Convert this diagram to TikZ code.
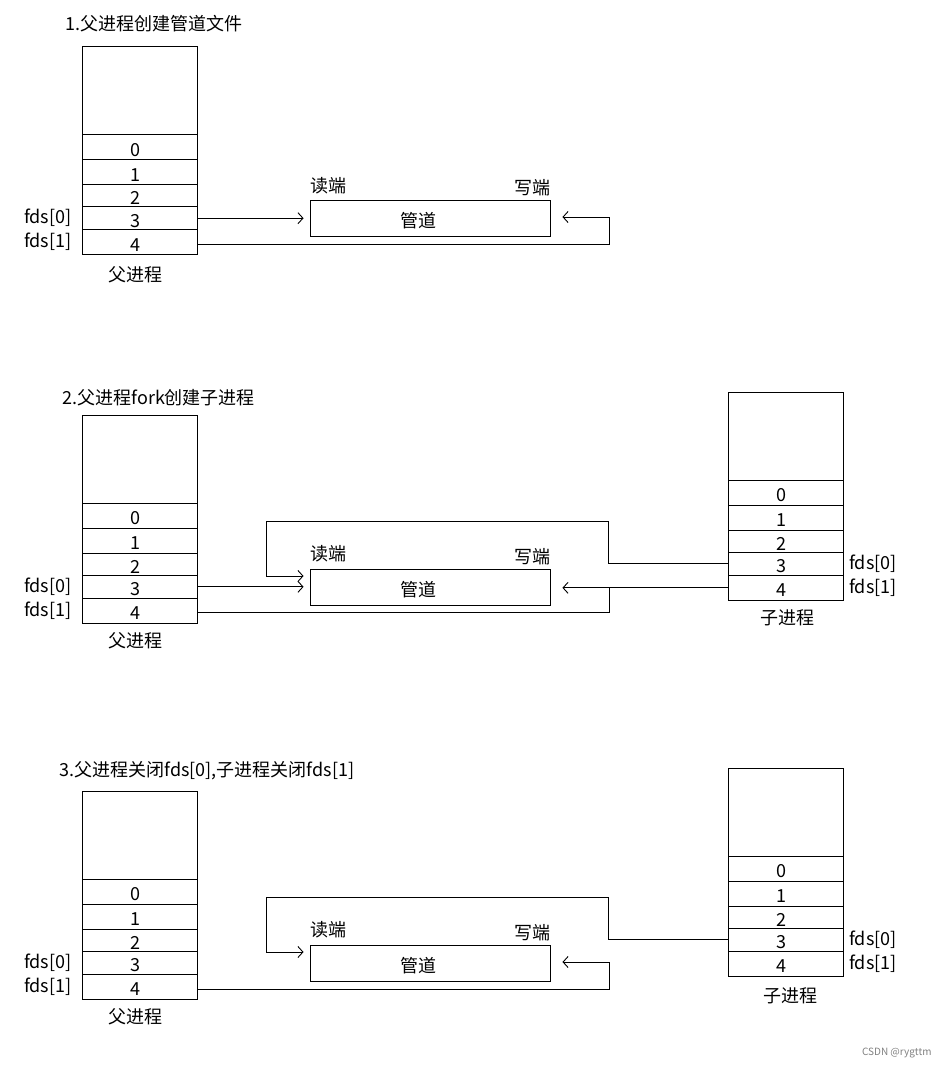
\documentclass[tikz,border=0pt]{standalone}
\usepackage{fontspec}
\setmainfont{Noto Sans CJK SC}
\usetikzlibrary{arrows.meta}
% digit placed a little left and low inside its cell, as in the reference
\newcommand{\dgt}[1]{\hspace*{-9pt}\raisebox{-2.5pt}[\height][0pt]{#1}}
% process table: prefix, x-centre, y-top (pixel units)
\newcommand{\proctable}[3]{%
  \node[cell, minimum height=88pt] (#1big) at (#2, #3+44) {};
  \node[cell, minimum height=25pt] (#1r0) at (#2, #3+100.5) {\dgt{0}};
  \node[cell, minimum height=25pt] (#1r1) at (#2, #3+125.5) {\dgt{1}};
  \node[cell, minimum height=22pt] (#1r2) at (#2, #3+149) {\dgt{2}};
  \node[cell, minimum height=23pt] (#1r3) at (#2, #3+171.5) {\dgt{3}};
  \node[cell, minimum height=25pt] (#1r4) at (#2, #3+195.5) {\dgt{4}};
}
\begin{document}
\begin{tikzpicture}[x=1pt, y=-1pt, line width=0.9pt,
  font=\fontsize{18pt}{22pt}\selectfont,
  cell/.style={draw, minimum width=115pt, inner sep=0pt},
  pipebox/.style={draw, minimum width=240pt, minimum height=36pt, inner sep=0pt},
  txt/.style={inner sep=0pt},
  arr/.style={-{Straight Barb[length=5pt,width=11pt]}, shorten >=6pt},
  arrw/.style={-{Straight Barb[length=5pt,width=11pt]}, shorten >=12pt}]
\useasboundingbox (0,0) rectangle (948,1069);

% ---------------- section 1 ----------------
\node[txt, anchor=west] (ti1) at (65,24) {1.父进程创建管道文件};
\proctable{p1}{139.8}{46.7}
\node[txt] (pl1) at (135,275) {父进程};
\node[txt, anchor=east] (f1a) at ([xshift=-10pt]p1r3.west) {fds[0]};
\node[txt, anchor=east] (f1b) at ([xshift=-10pt]p1r4.west) {fds[1]};
\node[pipebox] (pipe1) at (430,218.3) {};
\node[txt] (t1) at (418,221) {管道};
\node[txt, anchor=west] (rd1) at (310,186) {读端};
\node[txt, anchor=east] (wr1) at (551,188) {写端};
\coordinate (w1t) at (609,217);
\coordinate (w1b) at (609,244);
\draw[arr] (p1r3.east) -- (p1r3.east -| pipe1.west);
\draw (p1r4.east |- w1b) -- (w1b) -- (w1t);
\draw[arrw] (w1t) -- (w1t -| pipe1.east);

% ---------------- section 2 ----------------
\node[txt, anchor=west] (ti2) at (62,398) {2.父进程fork创建子进程};
\proctable{p2}{139.8}{415.3}
\proctable{c2}{785.8}{392.3}
\node[txt] (pl2) at (135,641) {父进程};
\node[txt] (cl2) at (787,618) {子进程};
\node[txt, anchor=east] (f2a) at ([xshift=-10pt]p2r3.west) {fds[0]};
\node[txt, anchor=east] (f2b) at ([xshift=-10pt]p2r4.west) {fds[1]};
\node[txt, anchor=west] (g2a) at ([xshift=5pt]c2r3.east) {fds[0]};
\node[txt, anchor=west] (g2b) at ([xshift=5pt]c2r4.east) {fds[1]};
\node[pipebox] (pipe2) at (430,587.3) {};
\node[txt] (t2) at (418,590) {管道};
\node[txt, anchor=west] (rd2) at (310,554) {读端};
\node[txt, anchor=east] (wr2) at (551,557) {写端};
\coordinate (l2a) at (608,521);
\coordinate (l2b) at (266,521);
\coordinate (l2c) at (266,576);
\draw[arr] (c2r3.west) -- (c2r3.west -| l2a) -- (l2a) -- (l2b) -- (l2c) -- (l2c -| pipe2.west);
\draw[arr] (p2r3.east) -- (p2r3.east -| pipe2.west);
\coordinate (w2b) at (609,612.5);
\draw[arrw] (c2r4.west) -- (c2r4.west -| pipe2.east);
\draw (p2r4.east |- w2b) -- (w2b) -- (w2b |- c2r4.west);

% ---------------- section 3 ----------------
\node[txt, anchor=west] (ti3) at (59,771) {3.父进程关闭fds[0],子进程关闭fds[1]};
\proctable{p3}{139.8}{791.3}
\proctable{c3}{785.8}{768.3}
\node[txt] (pl3) at (135,1017) {父进程};
\node[txt] (cl3) at (790,996) {子进程};
\node[txt, anchor=east] (f3a) at ([xshift=-10pt]p3r3.west) {fds[0]};
\node[txt, anchor=east] (f3b) at ([xshift=-10pt]p3r4.west) {fds[1]};
\node[txt, anchor=west] (g3a) at ([xshift=5pt]c3r3.east) {fds[0]};
\node[txt, anchor=west] (g3b) at ([xshift=5pt]c3r4.east) {fds[1]};
\node[pipebox] (pipe3) at (430,963.2) {};
\node[txt] (t3) at (418,966) {管道};
\node[txt, anchor=west] (rd3) at (310,930) {读端};
\node[txt, anchor=east] (wr3) at (551,933) {写端};
\coordinate (l3a) at (608,897);
\coordinate (l3b) at (266,897);
\coordinate (l3c) at (266,952);
\draw[arr] (c3r3.west) -- (c3r3.west -| l3a) -- (l3a) -- (l3b) -- (l3c) -- (l3c -| pipe3.west);
\coordinate (w3t) at (609,962);
\coordinate (w3b) at (609,989);
\draw (p3r4.east |- w3b) -- (w3b) -- (w3t);
\draw[arrw] (w3t) -- (w3t -| pipe3.east);

% watermark
\node[txt, anchor=east, text=gray, font=\fontsize{10pt}{12pt}\selectfont] (wm) at (932,1053) {CSDN @rygttm};
\end{tikzpicture}
\end{document}
